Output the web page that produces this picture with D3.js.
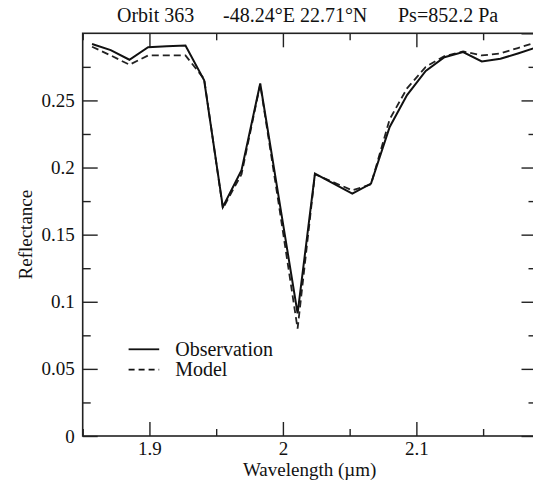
<!DOCTYPE html>
<html>
<head>
<meta charset="utf-8">
<script src="https://cdn.jsdelivr.net/npm/d3@7"></script>
<title>Reflectance</title>
<style>
  body { margin: 0; background: #fff; }
  text { font-family: "Liberation Serif", "DejaVu Serif", serif; fill: #111; }
</style>
</head>
<body>
<script>
// channel wavelengths (um) and reflectances
var wavelength = [1.857, 1.871, 1.885, 1.899, 1.913, 1.927, 1.941, 1.955, 1.969, 1.983,
                  1.997, 2.011, 2.024, 2.038, 2.052, 2.066, 2.080, 2.093, 2.107, 2.121,
                  2.135, 2.149, 2.163, 2.176, 2.190];
var observation = [0.292, 0.2875, 0.2803, 0.2897, 0.2903, 0.2909, 0.265, 0.1706, 0.198, 0.2626,
                   0.177, 0.0913, 0.1955, 0.188, 0.1806, 0.188, 0.2302, 0.254, 0.272, 0.2822,
                   0.286, 0.279, 0.281, 0.285, 0.2895];
var model = [0.290, 0.2835, 0.2766, 0.2835, 0.2835, 0.2835, 0.266, 0.1695, 0.195, 0.262,
             0.172, 0.080, 0.195, 0.189, 0.183, 0.1875, 0.236, 0.259, 0.275, 0.283,
             0.2865, 0.2835, 0.285, 0.289, 0.2934];

var xMajor = [1.9, 2.0, 2.1];
var xMinor = [1.85, 1.95, 2.05, 2.15];
var yMajor = [0, 0.05, 0.1, 0.15, 0.2, 0.25, 0.3];
var yMinor = [0.025, 0.075, 0.125, 0.175, 0.225, 0.275];
var yLabelled = [0, 0.05, 0.1, 0.15, 0.2, 0.25];

var titleParts = ["Orbit 363", "-48.24\u00B0E 22.71\u00B0N", "Ps=852.2 Pa"];
var legendNames = ["Observation", "Model"];

var W = 533, H = 481;
var pL = 82.7, pR = 536.5, pT = 33.3, pB = 436;

var svg = d3.select("body").append("svg")
    .attr("width", W)
    .attr("height", H);

var x = d3.scaleLinear().domain([1.85, 2.19]).range([pL, pR]);
var y = d3.scaleLinear().domain([0, 0.3]).range([pB, pT]);

// ticks on all four sides, pointing in
function tickAxis(axis, vals, size) {
  return axis.tickValues(vals).tickSize(size).tickFormat("");
}
var fmt = d3.format("~g");

svg.append("g").attr("transform", "translate(0," + pB + ")")
   .call(tickAxis(d3.axisBottom(x), xMajor, -14).tickPadding(5.5).tickFormat(fmt));
svg.append("g").attr("transform", "translate(0," + pB + ")")
   .call(tickAxis(d3.axisBottom(x), xMinor, -7));
svg.append("g").attr("transform", "translate(0," + pT + ")")
   .call(tickAxis(d3.axisTop(x), xMajor, -14));
svg.append("g").attr("transform", "translate(0," + pT + ")")
   .call(tickAxis(d3.axisTop(x), xMinor, -7));

svg.append("g").attr("transform", "translate(" + pL + ",0)")
   .call(tickAxis(d3.axisLeft(y), yLabelled, -15).tickPadding(8).tickFormat(fmt));
svg.append("g").attr("transform", "translate(" + pL + ",0)")
   .call(tickAxis(d3.axisLeft(y), yMinor, -8));
svg.append("g").attr("transform", "translate(" + pR + ",0)")
   .call(tickAxis(d3.axisRight(y), yMajor, -15));
svg.append("g").attr("transform", "translate(" + pR + ",0)")
   .call(tickAxis(d3.axisRight(y), yMinor, -8));

svg.selectAll(".domain").remove();
svg.selectAll(".tick line").attr("stroke", "#222").attr("stroke-width", 1.4);
svg.selectAll(".tick text").attr("font-size", 19).attr("fill", "#111");

// frame
svg.append("rect")
   .attr("x", pL).attr("y", pT)
   .attr("width", pR - pL).attr("height", pB - pT)
   .attr("fill", "none").attr("stroke", "#222").attr("stroke-width", 1.6);

svg.append("clipPath").attr("id", "plot")
   .append("rect").attr("x", pL).attr("y", pT)
   .attr("width", pR - pL).attr("height", pB - pT);

var line = d3.line().x(function(d) { return x(d[0]); }).y(function(d) { return y(d[1]); });

svg.append("path")
   .datum(d3.zip(wavelength, model))
   .attr("clip-path", "url(#plot)")
   .attr("d", line)
   .attr("fill", "none").attr("stroke", "#222")
   .attr("stroke-width", 1.8).attr("stroke-dasharray", "7,4");

svg.append("path")
   .datum(d3.zip(wavelength, observation))
   .attr("clip-path", "url(#plot)")
   .attr("d", line)
   .attr("fill", "none").attr("stroke", "#111")
   .attr("stroke-width", 2);

// legend
var leg = svg.append("g").selectAll("g").data(legendNames).enter().append("g")
   .attr("transform", function(d, i) { return "translate(128.6," + (349.3 + i * 20.4) + ")"; });
leg.append("line")
   .attr("x1", 0).attr("x2", 30.6)
   .attr("stroke", "#111").attr("stroke-width", 1.8)
   .attr("stroke-dasharray", function(d, i) { return i ? "6,4" : null; });
leg.append("text")
   .attr("x", 46.6).attr("dy", "0.33em")
   .attr("font-size", 20)
   .text(function(d) { return d; });

// title
var titleX = [117, 223, 398];
svg.selectAll(".title").data(titleParts).enter().append("text")
   .attr("class", "title")
   .attr("x", function(d, i) { return titleX[i]; })
   .attr("y", 22)
   .attr("font-size", 20)
   .text(function(d) { return d; });

// axis titles
svg.append("text")
   .attr("x", (pL + pR) / 2).attr("y", 476)
   .attr("text-anchor", "middle").attr("font-size", 19)
   .text("Wavelength (\u00B5m)");

svg.append("text")
   .attr("transform", "translate(32," + ((pT + pB) / 2) + ") rotate(-90)")
   .attr("text-anchor", "middle").attr("font-size", 19)
   .text("Reflectance");
</script>
</body>
</html>
